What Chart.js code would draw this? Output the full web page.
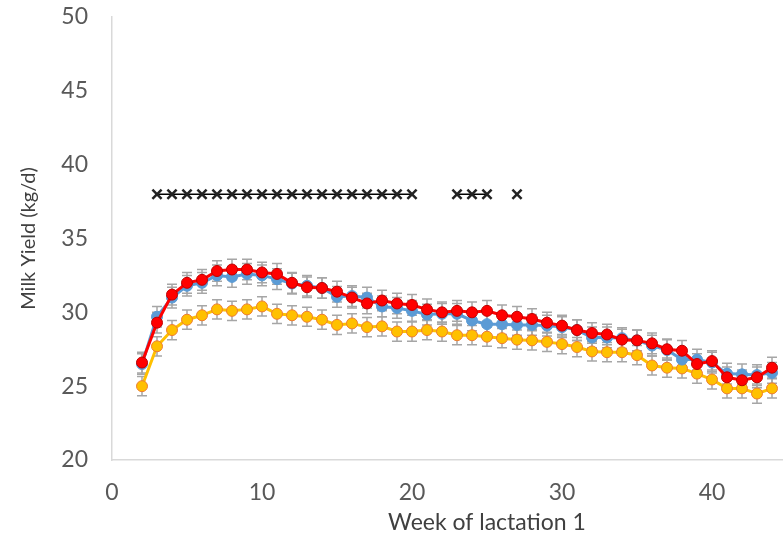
<!DOCTYPE html>
<html><head><meta charset="utf-8">
<script src="https://cdn.jsdelivr.net/npm/chart.js@4/dist/chart.umd.min.js"></script>
<style>html,body{margin:0;padding:0;background:#fff;overflow:hidden}
#wrap{width:783px;height:538px;overflow:hidden;position:relative}
canvas{display:block}
</style></head><body><div id="wrap"><canvas id="c" width="900" height="538"></canvas></div>
<script>
const weeks = [2,3,4,5,6,7,8,9,10,11,12,13,14,15,16,17,18,19,20,21,22,23,24,25,26,27,28,29,30,31,32,33,34,35,36,37,38,39,40,41,42,43,44];
const redYield = [26.6,29.3,31.2,32.0,32.2,32.8,32.9,32.9,32.7,32.6,32.0,31.7,31.65,31.4,31.0,30.6,30.8,30.6,30.5,30.2,30.0,30.1,30.0,30.1,29.8,29.7,29.55,29.3,29.1,28.8,28.6,28.5,28.15,28.1,27.9,27.5,27.4,26.5,26.7,25.6,25.4,25.6,26.25];
const blueYield = [26.5,29.7,31.0,31.8,32.0,32.5,32.4,32.6,32.5,32.25,31.95,31.8,31.65,31.05,31.1,31.0,30.4,30.3,30.1,29.85,29.9,29.9,29.45,29.2,29.2,29.15,29.15,29.1,29.0,28.8,28.3,28.3,28.25,28.1,27.75,27.45,26.8,26.8,26.6,25.85,25.8,25.75,25.9];
const orangeYield = [25.0,27.7,28.8,29.5,29.8,30.2,30.1,30.2,30.4,29.9,29.8,29.7,29.5,29.15,29.25,29.0,29.05,28.7,28.7,28.8,28.7,28.45,28.45,28.35,28.25,28.15,28.1,28.0,27.85,27.65,27.35,27.3,27.3,27.1,26.4,26.25,26.2,25.85,25.45,24.85,24.85,24.5,24.85];
const redErr = [0.7,0.7,0.7,0.7,0.7,0.7,0.7,0.7,0.7,0.7,0.7,0.7,0.7,0.7,0.7,0.7,0.7,0.7,0.7,0.7,0.7,0.7,0.7,0.7,0.7,0.7,0.7,0.7,0.7,0.7,0.7,0.7,0.7,0.7,0.7,0.7,0.7,0.7,0.7,0.7,0.7,0.7,0.7];
const blueErr = [0.7,0.7,0.7,0.7,0.7,0.7,0.7,0.7,0.7,0.7,0.7,0.7,0.7,0.7,0.7,0.7,0.7,0.7,0.7,0.7,0.7,0.7,0.7,0.7,0.7,0.7,0.7,0.7,0.7,0.7,0.7,0.7,0.7,0.7,0.7,0.7,0.7,0.7,0.7,0.7,0.7,0.7,0.7];
const orangeErr = [0.65,0.65,0.65,0.65,0.65,0.65,0.65,0.65,0.65,0.65,0.65,0.65,0.65,0.65,0.65,0.65,0.65,0.65,0.65,0.65,0.65,0.65,0.65,0.65,0.65,0.65,0.65,0.65,0.65,0.65,0.65,0.65,0.65,0.65,0.65,0.65,0.65,0.65,0.65,0.65,0.65,0.65,0.65];
const sigWeeks = [3,4,5,6,7,8,9,10,11,12,13,14,15,16,17,18,19,20,23,24,25,27];
const sigLevel = 38;
const xTitle = 'Week of lactation 1';
const yTitle = 'Milk Yield (kg/d)';

const toXY = (ys) => weeks.map((w,i)=>({x:w,y:ys[i]}));
const sigData = [];
for (let w = 3; w <= 27; w++) sigData.push({x:w, y: sigWeeks.includes(w) ? sigLevel : null});

const errorBars = {
  id:'errorBars',
  beforeDatasetsDraw(chart){
    const ctx = chart.ctx, ys = chart.scales.y;
    ctx.save();
    ctx.strokeStyle = '#a6a6a6';
    ctx.lineWidth = 1.5;
    chart.data.datasets.forEach((ds, di) => {
      if (!ds.errors) return;
      const meta = chart.getDatasetMeta(di);
      meta.data.forEach((pt, i) => {
        const v = ds.data[i].y, e = ds.errors[i];
        const x = pt.x, y1 = ys.getPixelForValue(v + e), y2 = ys.getPixelForValue(v - e);
        ctx.beginPath();
        ctx.moveTo(x, y1); ctx.lineTo(x, y2);
        ctx.moveTo(x-5, y1); ctx.lineTo(x+5, y1);
        ctx.moveTo(x-5, y2); ctx.lineTo(x+5, y2);
        ctx.stroke();
      });
    });
    ctx.restore();
  }
};

const FONT = 'Lato';
new Chart(document.getElementById('c'), {
  type:'line',
  data:{ datasets:[
    {label:'sig', data:sigData, borderColor:'#000', borderWidth:1.5, pointStyle:'crossRot', pointRadius:6.5, pointBorderWidth:2.5, pointBorderColor:'#222', spanGaps:false, order:0},
    {label:'red', data:toXY(redYield), errors:redErr, borderColor:'#ff0000', borderWidth:3, backgroundColor:'#ff0000', pointBackgroundColor:'#ff0000', pointBorderColor:'#c00000', pointBorderWidth:1, pointRadius:5.5, order:1},
    {label:'blue', data:toXY(blueYield), errors:blueErr, borderColor:'#5b9bd5', borderWidth:3, pointBackgroundColor:'#5b9bd5', pointBorderColor:'#5b9bd5', pointBorderWidth:1, pointRadius:5.5, order:2},
    {label:'orange', data:toXY(orangeYield), errors:orangeErr, borderColor:'#ffc000', borderWidth:3, pointBackgroundColor:'#ffc000', pointBorderColor:'#ed7d31', pointBorderWidth:1, pointRadius:5.5, order:3}
  ]},
  options:{
    responsive:false, animation:false,
    layout:{padding:{left:0, top:17, right:38, bottom:2}},
    plugins:{legend:{display:false}, tooltip:{enabled:false}},
    scales:{
      x:{type:'linear', min:0, max:50,
        grid:{display:false, drawTicks:false},
        border:{display:true, color:'#d9d9d9', width:1.5},
        ticks:{stepSize:10, padding:19, color:'#595959', font:{family:FONT, size:23}},
        title:{display:true, text:xTitle, color:'#404040', font:{family:FONT, size:23}, padding:{top:0,bottom:0}},
        afterFit(s){ s.height = 76; s.paddingLeft = 0; s.paddingRight = 0; }
      },
      y:{min:20, max:50,
        grid:{display:false, drawTicks:false},
        border:{display:true, color:'#d9d9d9', width:1.5},
        ticks:{stepSize:5, padding:24, color:'#595959', font:{family:FONT, size:23}},
        title:{display:true, text:yTitle, color:'#404040', font:{family:FONT, size:20}, padding:{top:17,bottom:0}},
        afterFit(s){ s.width = 112; s.paddingTop = 0; s.paddingBottom = 0; }
      }
    }
  },
  plugins:[errorBars]
});
</script></body></html>
